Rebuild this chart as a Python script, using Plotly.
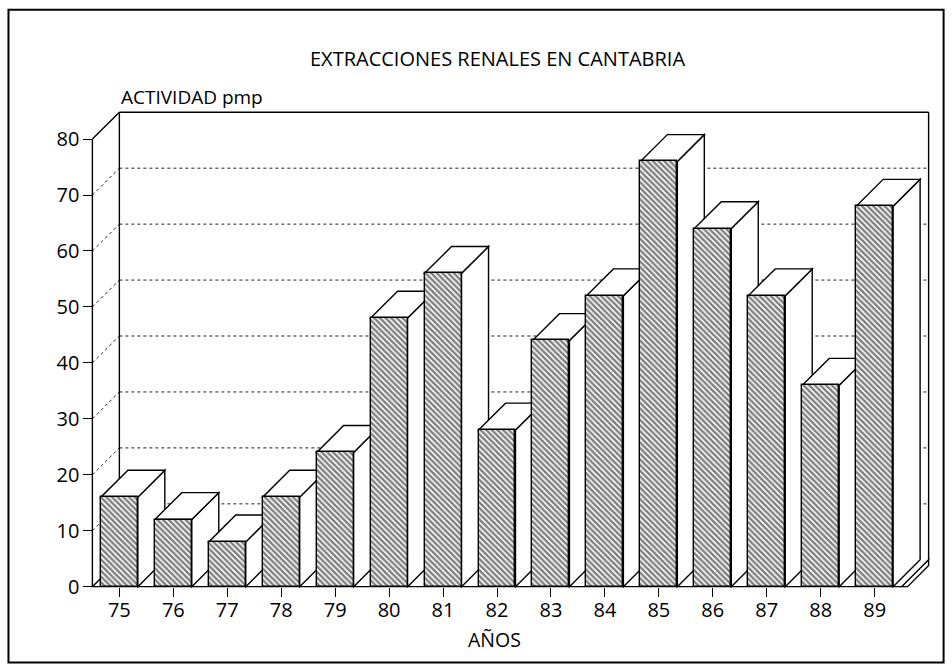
import plotly.graph_objects as go

# ---------------- data ----------------
years = [75, 76, 77, 78, 79, 80, 81, 82, 83, 84, 85, 86, 87, 88, 89]
year_labels = [str(y) for y in years]
actividad_pmp = [16, 12, 8, 16, 24, 48, 56, 28, 44, 52, 76, 64, 52, 36, 68]
y_ticks = [0, 10, 20, 30, 40, 50, 60, 70, 80]

title_text = "EXTRACCIONES RENALES EN CANTABRIA"
y_title = "ACTIVIDAD pmp"
x_title = "AÑOS"

# ---------------- geometry / style ----------------
W, H = 952, 668
FONT = "Open Sans"
BAR_W = 0.685          # front-face width (category units)
DX = 0.5               # depth offset in x (category units)
DY = 4.8               # depth offset in y (value units)
X0 = years[0] - 0.5    # front-left edge of floor
X1 = years[-1] + 0.5   # front-right edge of floor
YMAX = y_ticks[-1]

PX_X = 54.0            # pixels per category
PX_Y = 5.596           # pixels per value unit
FRONT_LEFT_PX = 92.0
BASE_PX = 587.0

XR = [X0 - 0.1, X1 + DX + 0.1]
YR = [-0.6, YMAX + DY + 0.4]
ML = FRONT_LEFT_PX - (X0 - XR[0]) * PX_X
PW = (XR[1] - XR[0]) * PX_X
MR = W - ML - PW
MB = H - (BASE_PX + (0 - YR[0]) * PX_Y)
PH = (YR[1] - YR[0]) * PX_Y
MT = H - MB - PH


def px_x(px):
    return (px - ML) / PW


def px_y(py):
    return (H - MB - py) / PH


LINE = dict(color="black", width=1.4)
DOT = dict(color="#222222", width=1, dash="dot")

shapes = []


def seg(xa, ya, xb, yb, line):
    shapes.append(dict(type="line", xref="x", yref="y", x0=xa, y0=ya, x1=xb, y1=yb,
                       line=line, layer="below"))


def poly(pts, fill="white"):
    path = "M " + " L ".join(f"{x},{y}" for x, y in pts) + " Z"
    shapes.append(dict(type="path", xref="x", yref="y", path=path,
                       fillcolor=fill, line=LINE, layer="below"))


# back wall gridlines and left wall diagonals (dotted)
for v in y_ticks[1:-1]:
    seg(X0 + DX, v + DY, X1 + DX, v + DY, DOT)
    seg(X0, v, X0 + DX, v + DY, DOT)

# back wall frame
seg(X0 + DX, DY, X0 + DX, YMAX + DY, LINE)
seg(X0 + DX, YMAX + DY, X1 + DX, YMAX + DY, LINE)
seg(X1 + DX, DY, X1 + DX, YMAX + DY, LINE)

# front value axis and its top diagonal
seg(X0, 0, X0, YMAX, LINE)
seg(X0, YMAX, X0 + DX, YMAX + DY, LINE)

# floor
seg(X0, 0, X1, 0, LINE)
seg(X0, 0, X0 + DX, DY, LINE)
poly([(X1, 0), (X1 + DX, DY), (X1 + DX, DY - 1.0), (X1 + 0.11, 0)])

# bar side and top faces (drawn left to right)
for x, v in zip(years, actividad_pmp):
    xl, xr = x - BAR_W / 2, x + BAR_W / 2
    poly([(xr, 0), (xr + DX, DY), (xr + DX, v + DY), (xr, v)])
    poly([(xl, v), (xr, v), (xr + DX, v + DY), (xl + DX, v + DY)])

# outer frame
shapes.append(dict(type="rect", xref="paper", yref="paper",
                   x0=px_x(8), x1=px_x(944), y0=px_y(663), y1=px_y(10),
                   line=dict(color="black", width=2), layer="below"))

fig = go.Figure()
fig.add_trace(go.Bar(
    x=years, y=actividad_pmp, width=BAR_W, base=0,
    marker=dict(color="white",
                line=dict(color="black", width=1.4),
                pattern=dict(shape="\\", fgcolor="black", bgcolor="white",
                             size=4, solidity=0.62)),
    hoverinfo="x+y", showlegend=False,
))

annotations = [
    dict(text=title_text, x=px_x(497), y=px_y(59), xref="paper", yref="paper",
         showarrow=False, xanchor="center", yanchor="middle",
         font=dict(family=FONT, size=20, color="black")),
    dict(text=y_title, x=px_x(119), y=px_y(97), xref="paper", yref="paper",
         showarrow=False, xanchor="left", yanchor="middle",
         font=dict(family=FONT, size=19, color="black")),
    dict(text=x_title, x=px_x(494), y=px_y(640), xref="paper", yref="paper",
         showarrow=False, xanchor="center", yanchor="middle",
         font=dict(family=FONT, size=19.5, color="black")),
]

fig.update_layout(
    width=W, height=H,
    margin=dict(l=ML, r=MR, t=MT, b=MB, pad=0, autoexpand=False),
    paper_bgcolor="white", plot_bgcolor="rgba(0,0,0,0)",
    shapes=shapes, annotations=annotations, bargap=0,
    xaxis=dict(range=XR, tickvals=years, ticktext=year_labels,
               anchor="free", position=(0 - YR[0]) / (YR[1] - YR[0]),
               ticks="outside", ticklen=9, tickwidth=1.4, tickcolor="black",
               ticklabelstandoff=-4,
               showline=False, showgrid=False, zeroline=False,
               tickfont=dict(family=FONT, size=20, color="black"), fixedrange=True),
    yaxis=dict(range=YR, tickvals=y_ticks,
               anchor="free", position=(X0 - XR[0]) / (XR[1] - XR[0]),
               ticks="outside", ticklen=9, tickwidth=1.4, tickcolor="black",
               showline=False, showgrid=False, zeroline=False,
               tickfont=dict(family=FONT, size=20, color="black"), fixedrange=True),
)

fig.write_html("out.html",
               config={"displayModeBar": False},
               post_script="document.body.style.margin='0';document.body.style.overflow='hidden';")
